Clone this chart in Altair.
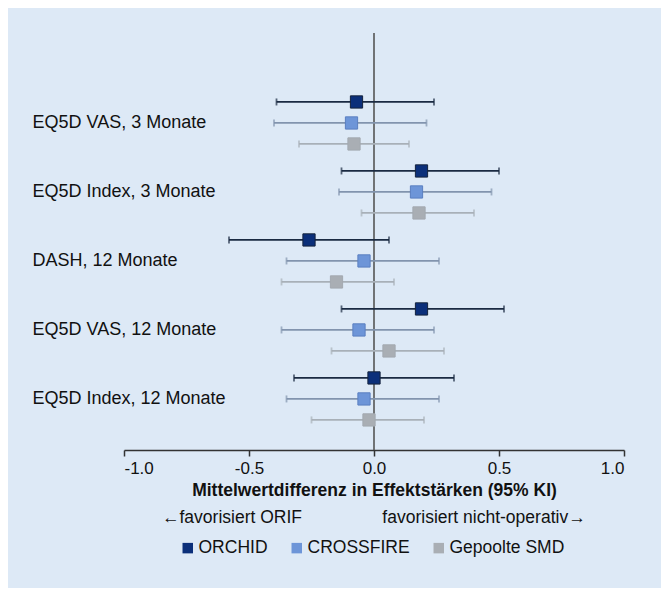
import altair as alt
import pandas as pd

outcomes = ["EQ5D VAS, 3 Monate", "EQ5D Index, 3 Monate", "DASH, 12 Monate",
            "EQ5D VAS, 12 Monate", "EQ5D Index, 12 Monate"]
studies = ["ORCHID", "CROSSFIRE", "Gepoolte SMD"]

orchid_est = [-0.07, 0.19, -0.26, 0.19, 0.00]
orchid_lo = [-0.39, -0.13, -0.58, -0.13, -0.32]
orchid_hi = [0.24, 0.50, 0.06, 0.52, 0.32]

crossfire_est = [-0.09, 0.17, -0.04, -0.06, -0.04]
crossfire_lo = [-0.40, -0.14, -0.35, -0.37, -0.35]
crossfire_hi = [0.21, 0.47, 0.26, 0.24, 0.26]

smd_est = [-0.08, 0.18, -0.15, 0.06, -0.02]
smd_lo = [-0.30, -0.05, -0.37, -0.17, -0.25]
smd_hi = [0.14, 0.40, 0.08, 0.28, 0.20]

x_ticks = [-1.0, -0.5, 0.0, 0.5, 1.0]

fill_colors = ["#0b2f7a", "#6d95d8", "#a9aeb4"]
stroke_colors = ["#14233d", "#5a7fc0", "#a3a9b0"]
bar_colors = ["#1a2a42", "#8294ae", "#a8b0b8"]

rows = []
for name, est, lo, hi in [("ORCHID", orchid_est, orchid_lo, orchid_hi),
                          ("CROSSFIRE", crossfire_est, crossfire_lo, crossfire_hi),
                          ("Gepoolte SMD", smd_est, smd_lo, smd_hi)]:
    for o, e, l, h in zip(outcomes, est, lo, hi):
        rows.append({"outcome": o, "study": name, "est": e, "lo": l, "hi": h})
df = pd.DataFrame(rows)

FONT = "Liberation Sans"

xscale = alt.Scale(domain=[-1, 1], nice=False, zero=False)
yscale = alt.Scale(domain=outcomes, paddingInner=0, paddingOuter=0.522, align=0.77)
yoff_scale = alt.Scale(domain=studies, paddingInner=0, paddingOuter=0.143)

base = alt.Chart(df)

y_enc = alt.Y("outcome:N", scale=yscale,
              axis=alt.Axis(title=None, domain=False, ticks=False, labelAlign="left",
                            labelPadding=92, labelFontSize=18, labelColor="#111111",
                            labelFont=FONT, labelLimit=300, labelBaseline="middle"))
yoff = alt.YOffset("study:N", scale=yoff_scale)

x_enc = alt.X("lo:Q", scale=xscale,
              axis=alt.Axis(title="Mittelwertdifferenz in Effektstärken (95% KI)",
                            values=x_ticks, grid=False,
                            labelExpr="replace(format(datum.value, '.1f'), '\u2212', '-')",
                            labelFontSize=17, labelFont=FONT, labelColor="#111111",
                            labelPadding=4, tickSize=6, tickWidth=1.5, tickColor="#333333",
                            domainColor="#333333", domainWidth=1.5,
                            titleFont=FONT, titleFontSize=17.5, titleFontWeight="bold",
                            titleColor="#111111", titlePadding=5))

bar_color = alt.Color("study:N", scale=alt.Scale(domain=studies, range=bar_colors), legend=None)

rules = base.mark_rule(strokeWidth=1.8).encode(
    x=x_enc, x2="hi:Q", y=y_enc, yOffset=yoff, color=bar_color)

caps_lo = base.mark_tick(size=7, thickness=1.8).encode(
    x=alt.X("lo:Q", scale=xscale), y=alt.Y("outcome:N", scale=yscale), yOffset=yoff, color=bar_color)
caps_hi = base.mark_tick(size=7, thickness=1.8).encode(
    x=alt.X("hi:Q", scale=xscale), y=alt.Y("outcome:N", scale=yscale), yOffset=yoff, color=bar_color)

zero_line = alt.Chart(pd.DataFrame({"z": [0.0]})).mark_rule(color="#555555", strokeWidth=1.6).encode(
    x=alt.X("z:Q", scale=xscale))

points = base.mark_point(shape="square", filled=True, size=150, strokeWidth=1, opacity=1).encode(
    x=alt.X("est:Q", scale=xscale),
    y=alt.Y("outcome:N", scale=yscale),
    yOffset=yoff,
    fill=alt.Fill("study:N", scale=alt.Scale(domain=studies, range=fill_colors),
                  legend=alt.Legend(title=None, orient="none", direction="horizontal",
                                    legendX=55, legendY=506, symbolType="square",
                                    symbolSize=110, symbolStrokeWidth=0,
                                    labelFontSize=17.5, labelFont=FONT, labelColor="#111111",
                                    labelOffset=2, columnPadding=20, padding=0)),
    stroke=alt.Stroke("study:N", scale=alt.Scale(domain=studies, range=stroke_colors), legend=None),
)

ann_left = alt.Chart(pd.DataFrame({"t": ["\u2190favorisiert ORIF"]})).mark_text(
    fontSize=17.5, font=FONT, color="#111111", align="center", baseline="middle").encode(
    text="t:N", x=alt.value(108), y=alt.value(485))
ann_right = alt.Chart(pd.DataFrame({"t": ["favorisiert nicht-operativ\u2192"]})).mark_text(
    fontSize=17.5, font=FONT, color="#111111", align="center", baseline="middle").encode(
    text="t:N", x=alt.value(360), y=alt.value(485))

chart = alt.layer(zero_line, rules, caps_lo, caps_hi, points, ann_left, ann_right).resolve_scale(
    color="independent", fill="independent", stroke="independent"
).properties(
    width=500, height=417,
    autosize=alt.AutoSizeParams(type="none"),
    padding={"left": 116, "top": 25, "right": 37, "bottom": 138},
).configure(background="#dde9f6").configure_view(stroke=None)

chart.save("out.html", embed_options={"renderer": "svg", "actions": False})
